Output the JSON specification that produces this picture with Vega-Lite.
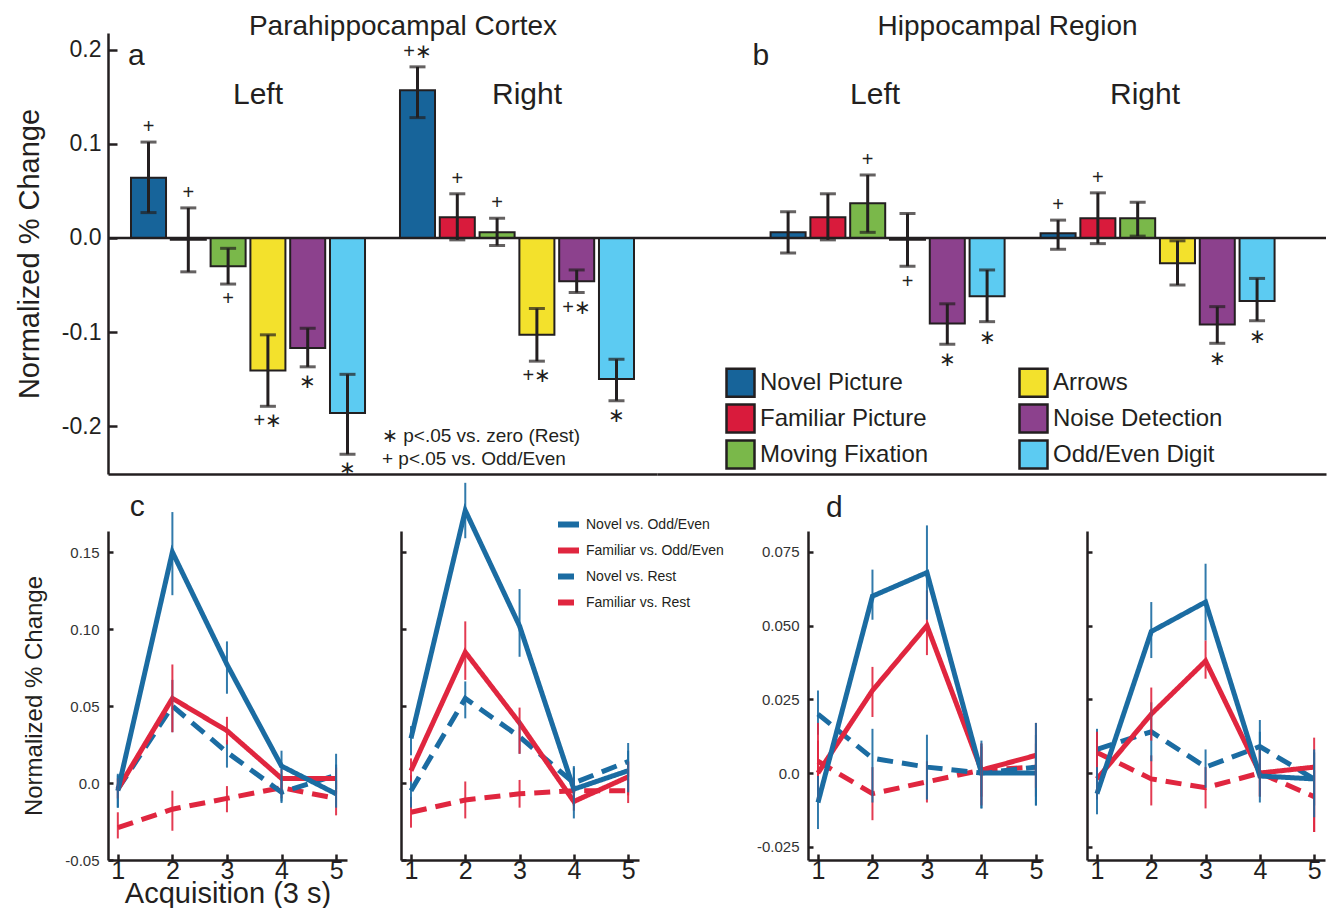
{
  "$schema": "https://vega.github.io/schema/vega-lite/v6.json",
  "padding": {"left": 15, "top": 12, "right": 0, "bottom": 0},
  "background": "white",
  "config": {
    "font": "Liberation Sans",
    "view": {"stroke": null},
    "axis": {"grid": false, "domainColor": "#231F20", "tickColor": "#231F20", "labelColor": "#231F20", "titleColor": "#231F20", "titleFontWeight": "normal", "domainWidth": 2.5, "tickWidth": 2.5},
    "legend": {"padding": 0},
    "title": {"color": "#231F20", "fontWeight": "normal"},
    "text": {"color": "#231F20"}
  },
  "datasets": {
    "bars": [
      {"region": "PHC", "side": "Left", "cond": "Novel Picture", "value": 0.064, "lo": 0.027, "hi": 0.102, "sig": "+", "pos": "above"},
      {"region": "PHC", "side": "Left", "cond": "Familiar Picture", "value": -0.002, "lo": -0.036, "hi": 0.032, "sig": "+", "pos": "above"},
      {"region": "PHC", "side": "Left", "cond": "Moving Fixation", "value": -0.030, "lo": -0.049, "hi": -0.011, "sig": "+", "pos": "below"},
      {"region": "PHC", "side": "Left", "cond": "Arrows", "value": -0.141, "lo": -0.179, "hi": -0.103, "sig": "+∗", "pos": "below"},
      {"region": "PHC", "side": "Left", "cond": "Noise Detection", "value": -0.117, "lo": -0.137, "hi": -0.096, "sig": "∗", "pos": "below"},
      {"region": "PHC", "side": "Left", "cond": "Odd/Even Digit", "value": -0.186, "lo": -0.230, "hi": -0.145, "sig": "∗", "pos": "below"},
      {"region": "PHC", "side": "Right", "cond": "Novel Picture", "value": 0.157, "lo": 0.128, "hi": 0.182, "sig": "+∗", "pos": "above"},
      {"region": "PHC", "side": "Right", "cond": "Familiar Picture", "value": 0.022, "lo": -0.002, "hi": 0.047, "sig": "+", "pos": "above"},
      {"region": "PHC", "side": "Right", "cond": "Moving Fixation", "value": 0.006, "lo": -0.008, "hi": 0.021, "sig": "+", "pos": "above"},
      {"region": "PHC", "side": "Right", "cond": "Arrows", "value": -0.103, "lo": -0.131, "hi": -0.075, "sig": "+∗", "pos": "below"},
      {"region": "PHC", "side": "Right", "cond": "Noise Detection", "value": -0.046, "lo": -0.058, "hi": -0.034, "sig": "+∗", "pos": "below"},
      {"region": "PHC", "side": "Right", "cond": "Odd/Even Digit", "value": -0.150, "lo": -0.173, "hi": -0.129, "sig": "∗", "pos": "below"},
      {"region": "HR", "side": "Left", "cond": "Novel Picture", "value": 0.006, "lo": -0.016, "hi": 0.028, "sig": "", "pos": "none"},
      {"region": "HR", "side": "Left", "cond": "Familiar Picture", "value": 0.022, "lo": -0.002, "hi": 0.047, "sig": "", "pos": "none"},
      {"region": "HR", "side": "Left", "cond": "Moving Fixation", "value": 0.037, "lo": 0.006, "hi": 0.067, "sig": "+", "pos": "above"},
      {"region": "HR", "side": "Left", "cond": "Arrows", "value": -0.002, "lo": -0.030, "hi": 0.026, "sig": "+", "pos": "below"},
      {"region": "HR", "side": "Left", "cond": "Noise Detection", "value": -0.091, "lo": -0.113, "hi": -0.070, "sig": "∗", "pos": "below"},
      {"region": "HR", "side": "Left", "cond": "Odd/Even Digit", "value": -0.062, "lo": -0.089, "hi": -0.034, "sig": "∗", "pos": "below"},
      {"region": "HR", "side": "Right", "cond": "Novel Picture", "value": 0.005, "lo": -0.012, "hi": 0.019, "sig": "+", "pos": "above"},
      {"region": "HR", "side": "Right", "cond": "Familiar Picture", "value": 0.021, "lo": -0.006, "hi": 0.048, "sig": "+", "pos": "above"},
      {"region": "HR", "side": "Right", "cond": "Moving Fixation", "value": 0.021, "lo": 0.002, "hi": 0.038, "sig": "", "pos": "none"},
      {"region": "HR", "side": "Right", "cond": "Arrows", "value": -0.027, "lo": -0.050, "hi": -0.003, "sig": "", "pos": "none"},
      {"region": "HR", "side": "Right", "cond": "Noise Detection", "value": -0.092, "lo": -0.112, "hi": -0.073, "sig": "∗", "pos": "below"},
      {"region": "HR", "side": "Right", "cond": "Odd/Even Digit", "value": -0.067, "lo": -0.088, "hi": -0.043, "sig": "∗", "pos": "below"}
    ],
    "lines": [
      {"panel": "c1", "series": "Familiar vs. Rest", "t": 1, "value": -0.029, "lo": -0.036, "hi": -0.019},
      {"panel": "c1", "series": "Familiar vs. Rest", "t": 2, "value": -0.017, "lo": -0.031, "hi": -0.005},
      {"panel": "c1", "series": "Familiar vs. Rest", "t": 3, "value": -0.010, "lo": -0.019, "hi": -0.002},
      {"panel": "c1", "series": "Familiar vs. Rest", "t": 4, "value": -0.003, "lo": -0.010, "hi": 0.005},
      {"panel": "c1", "series": "Familiar vs. Rest", "t": 5, "value": -0.010, "lo": -0.021, "hi": 0.002},
      {"panel": "c1", "series": "Novel vs. Rest", "t": 1, "value": -0.004, "lo": -0.016, "hi": 0.005},
      {"panel": "c1", "series": "Novel vs. Rest", "t": 2, "value": 0.050, "lo": 0.033, "hi": 0.067},
      {"panel": "c1", "series": "Novel vs. Rest", "t": 3, "value": 0.020, "lo": 0.010, "hi": 0.028},
      {"panel": "c1", "series": "Novel vs. Rest", "t": 4, "value": -0.006, "lo": -0.012, "hi": 0.003},
      {"panel": "c1", "series": "Novel vs. Rest", "t": 5, "value": 0.005, "lo": -0.004, "hi": 0.012},
      {"panel": "c1", "series": "Familiar vs. Odd/Even", "t": 1, "value": -0.004, "lo": -0.010, "hi": 0.003},
      {"panel": "c1", "series": "Familiar vs. Odd/Even", "t": 2, "value": 0.055, "lo": 0.033, "hi": 0.077},
      {"panel": "c1", "series": "Familiar vs. Odd/Even", "t": 3, "value": 0.034, "lo": 0.025, "hi": 0.043},
      {"panel": "c1", "series": "Familiar vs. Odd/Even", "t": 4, "value": 0.003, "lo": -0.004, "hi": 0.009},
      {"panel": "c1", "series": "Familiar vs. Odd/Even", "t": 5, "value": 0.003, "lo": -0.007, "hi": 0.010},
      {"panel": "c1", "series": "Novel vs. Odd/Even", "t": 1, "value": -0.005, "lo": -0.016, "hi": 0.006},
      {"panel": "c1", "series": "Novel vs. Odd/Even", "t": 2, "value": 0.150, "lo": 0.122, "hi": 0.176},
      {"panel": "c1", "series": "Novel vs. Odd/Even", "t": 3, "value": 0.077, "lo": 0.058, "hi": 0.092},
      {"panel": "c1", "series": "Novel vs. Odd/Even", "t": 4, "value": 0.011, "lo": -0.013, "hi": 0.021},
      {"panel": "c1", "series": "Novel vs. Odd/Even", "t": 5, "value": -0.007, "lo": -0.016, "hi": 0.019},
      {"panel": "c2", "series": "Familiar vs. Rest", "t": 1, "value": -0.019, "lo": -0.029, "hi": -0.009},
      {"panel": "c2", "series": "Familiar vs. Rest", "t": 2, "value": -0.011, "lo": -0.023, "hi": 0.001},
      {"panel": "c2", "series": "Familiar vs. Rest", "t": 3, "value": -0.007, "lo": -0.016, "hi": 0.002},
      {"panel": "c2", "series": "Familiar vs. Rest", "t": 4, "value": -0.005, "lo": -0.015, "hi": 0.004},
      {"panel": "c2", "series": "Familiar vs. Rest", "t": 5, "value": -0.005, "lo": -0.013, "hi": 0.014},
      {"panel": "c2", "series": "Novel vs. Rest", "t": 1, "value": -0.005, "lo": -0.016, "hi": 0.005},
      {"panel": "c2", "series": "Novel vs. Rest", "t": 2, "value": 0.055, "lo": 0.042, "hi": 0.066},
      {"panel": "c2", "series": "Novel vs. Rest", "t": 3, "value": 0.030, "lo": 0.019, "hi": 0.041},
      {"panel": "c2", "series": "Novel vs. Rest", "t": 4, "value": 0.000, "lo": -0.010, "hi": 0.010},
      {"panel": "c2", "series": "Novel vs. Rest", "t": 5, "value": 0.014, "lo": 0.004, "hi": 0.026},
      {"panel": "c2", "series": "Familiar vs. Odd/Even", "t": 1, "value": 0.008, "lo": 0.001, "hi": 0.016},
      {"panel": "c2", "series": "Familiar vs. Odd/Even", "t": 2, "value": 0.085, "lo": 0.067, "hi": 0.105},
      {"panel": "c2", "series": "Familiar vs. Odd/Even", "t": 3, "value": 0.039, "lo": 0.019, "hi": 0.049},
      {"panel": "c2", "series": "Familiar vs. Odd/Even", "t": 4, "value": -0.012, "lo": -0.018, "hi": -0.004},
      {"panel": "c2", "series": "Familiar vs. Odd/Even", "t": 5, "value": 0.004, "lo": -0.008, "hi": 0.014},
      {"panel": "c2", "series": "Novel vs. Odd/Even", "t": 1, "value": 0.029, "lo": 0.018, "hi": 0.037},
      {"panel": "c2", "series": "Novel vs. Odd/Even", "t": 2, "value": 0.177, "lo": 0.159, "hi": 0.195},
      {"panel": "c2", "series": "Novel vs. Odd/Even", "t": 3, "value": 0.102, "lo": 0.082, "hi": 0.126},
      {"panel": "c2", "series": "Novel vs. Odd/Even", "t": 4, "value": -0.004, "lo": -0.023, "hi": 0.011},
      {"panel": "c2", "series": "Novel vs. Odd/Even", "t": 5, "value": 0.008, "lo": -0.006, "hi": 0.021},
      {"panel": "d1", "series": "Familiar vs. Rest", "t": 1, "value": 0.004, "lo": -0.006, "hi": 0.011},
      {"panel": "d1", "series": "Familiar vs. Rest", "t": 2, "value": -0.007, "lo": -0.016, "hi": 0.002},
      {"panel": "d1", "series": "Familiar vs. Rest", "t": 3, "value": -0.003, "lo": -0.010, "hi": 0.004},
      {"panel": "d1", "series": "Familiar vs. Rest", "t": 4, "value": 0.001, "lo": -0.008, "hi": 0.009},
      {"panel": "d1", "series": "Familiar vs. Rest", "t": 5, "value": 0.002, "lo": -0.008, "hi": 0.010},
      {"panel": "d1", "series": "Novel vs. Rest", "t": 1, "value": 0.020, "lo": 0.013, "hi": 0.028},
      {"panel": "d1", "series": "Novel vs. Rest", "t": 2, "value": 0.005, "lo": -0.010, "hi": 0.015},
      {"panel": "d1", "series": "Novel vs. Rest", "t": 3, "value": 0.002, "lo": -0.009, "hi": 0.013},
      {"panel": "d1", "series": "Novel vs. Rest", "t": 4, "value": 0.000, "lo": -0.012, "hi": 0.011},
      {"panel": "d1", "series": "Novel vs. Rest", "t": 5, "value": 0.002, "lo": -0.011, "hi": 0.013},
      {"panel": "d1", "series": "Familiar vs. Odd/Even", "t": 1, "value": 0.000, "lo": -0.009, "hi": 0.017},
      {"panel": "d1", "series": "Familiar vs. Odd/Even", "t": 2, "value": 0.028, "lo": 0.019, "hi": 0.036},
      {"panel": "d1", "series": "Familiar vs. Odd/Even", "t": 3, "value": 0.050, "lo": 0.040, "hi": 0.062},
      {"panel": "d1", "series": "Familiar vs. Odd/Even", "t": 4, "value": 0.001, "lo": -0.011, "hi": 0.010},
      {"panel": "d1", "series": "Familiar vs. Odd/Even", "t": 5, "value": 0.006, "lo": -0.005, "hi": 0.017},
      {"panel": "d1", "series": "Novel vs. Odd/Even", "t": 1, "value": -0.010, "lo": -0.019, "hi": -0.001},
      {"panel": "d1", "series": "Novel vs. Odd/Even", "t": 2, "value": 0.060, "lo": 0.052, "hi": 0.069},
      {"panel": "d1", "series": "Novel vs. Odd/Even", "t": 3, "value": 0.068, "lo": 0.052, "hi": 0.084},
      {"panel": "d1", "series": "Novel vs. Odd/Even", "t": 4, "value": 0.000, "lo": -0.012, "hi": 0.010},
      {"panel": "d1", "series": "Novel vs. Odd/Even", "t": 5, "value": 0.000, "lo": -0.011, "hi": 0.017},
      {"panel": "d2", "series": "Familiar vs. Rest", "t": 1, "value": 0.007, "lo": 0.002, "hi": 0.014},
      {"panel": "d2", "series": "Familiar vs. Rest", "t": 2, "value": -0.002, "lo": -0.011, "hi": 0.006},
      {"panel": "d2", "series": "Familiar vs. Rest", "t": 3, "value": -0.005, "lo": -0.012, "hi": 0.002},
      {"panel": "d2", "series": "Familiar vs. Rest", "t": 4, "value": 0.000, "lo": -0.008, "hi": 0.008},
      {"panel": "d2", "series": "Familiar vs. Rest", "t": 5, "value": -0.008, "lo": -0.020, "hi": 0.001},
      {"panel": "d2", "series": "Novel vs. Rest", "t": 1, "value": 0.008, "lo": 0.002, "hi": 0.015},
      {"panel": "d2", "series": "Novel vs. Rest", "t": 2, "value": 0.014, "lo": 0.004, "hi": 0.024},
      {"panel": "d2", "series": "Novel vs. Rest", "t": 3, "value": 0.002, "lo": -0.005, "hi": 0.008},
      {"panel": "d2", "series": "Novel vs. Rest", "t": 4, "value": 0.009, "lo": 0.001, "hi": 0.014},
      {"panel": "d2", "series": "Novel vs. Rest", "t": 5, "value": -0.002, "lo": -0.011, "hi": 0.007},
      {"panel": "d2", "series": "Familiar vs. Odd/Even", "t": 1, "value": -0.002, "lo": -0.009, "hi": 0.014},
      {"panel": "d2", "series": "Familiar vs. Odd/Even", "t": 2, "value": 0.020, "lo": 0.011, "hi": 0.029},
      {"panel": "d2", "series": "Familiar vs. Odd/Even", "t": 3, "value": 0.038, "lo": 0.032, "hi": 0.045},
      {"panel": "d2", "series": "Familiar vs. Odd/Even", "t": 4, "value": 0.000, "lo": -0.008, "hi": 0.008},
      {"panel": "d2", "series": "Familiar vs. Odd/Even", "t": 5, "value": 0.002, "lo": -0.020, "hi": 0.012},
      {"panel": "d2", "series": "Novel vs. Odd/Even", "t": 1, "value": -0.007, "lo": -0.014, "hi": 0.002},
      {"panel": "d2", "series": "Novel vs. Odd/Even", "t": 2, "value": 0.048, "lo": 0.039, "hi": 0.058},
      {"panel": "d2", "series": "Novel vs. Odd/Even", "t": 3, "value": 0.058, "lo": 0.045, "hi": 0.071},
      {"panel": "d2", "series": "Novel vs. Odd/Even", "t": 4, "value": -0.001, "lo": -0.010, "hi": 0.018},
      {"panel": "d2", "series": "Novel vs. Odd/Even", "t": 5, "value": -0.002, "lo": -0.015, "hi": 0.008}
    ]
  },
  "spacing": 1,
  "resolve": {"scale": {"color": "independent", "strokeDash": "independent"}, "legend": {"color": "independent", "strokeDash": "independent"}},
  "vconcat": [
    {
      "bounds": "flush",
      "spacing": 0,
      "resolve": {"scale": {"color": "independent"}, "legend": {"color": "independent"}},
      "hconcat": [
        {
          "width": 549, "height": 441,
          "data": {"name": "bars"},
          "layer": [
            {
              "transform": [{"filter": "datum.region === 'PHC'"}],
              "mark": {"type": "bar", "stroke": "#231F20", "strokeWidth": 2},
              "encoding": {
                "x": {"field": "side", "type": "nominal", "scale": {"domain": ["Left", "Right"], "paddingInner": 0.13, "paddingOuter": 0.0855}, "axis": {"title": null, "labels": false, "ticks": false}},
                "xOffset": {"field": "cond", "type": "nominal", "scale": {"domain": ["Novel Picture", "Familiar Picture", "Moving Fixation", "Arrows", "Noise Detection", "Odd/Even Digit"], "paddingInner": 0.12, "paddingOuter": 0}},
                "y": {"field": "value", "type": "quantitative", "scale": {"domain": [-0.251, 0.218], "nice": false, "zero": false},
                      "axis": {"title": "Normalized % Change", "titleFontSize": 29, "titlePadding": 17, "values": [-0.2, -0.1, 0, 0.1, 0.2], "labelExpr": "replace(format(datum.value, '.1f'), '\u2212', '-')", "labelFontSize": 23, "tickSize": -9, "labelPadding": 16}},
                "color": {"field": "cond", "type": "nominal", "scale": {"domain": ["Novel Picture", "Familiar Picture", "Moving Fixation", "Arrows", "Noise Detection", "Odd/Even Digit"], "range": ["#17649A", "#D91B3C", "#7AB84A", "#F3E12C", "#8C418D", "#5CCBF2"]}, "legend": null}
              }
            },
            {"data": {"values": [{}]}, "mark": {"type": "rule", "strokeWidth": 2.5, "color": "#231F20"}, "encoding": {"y": {"datum": 0}}},
            {
              "transform": [{"filter": "datum.region === 'PHC'"}],
              "mark": {"type": "rule", "strokeWidth": 3, "color": "#231F20"},
              "encoding": {"x": {"field": "side", "type": "nominal"}, "xOffset": {"field": "cond", "type": "nominal"}, "y": {"field": "lo", "type": "quantitative"}, "y2": {"field": "hi"}}
            },
            {
              "transform": [{"filter": "datum.region === 'PHC'"}],
              "mark": {"type": "tick", "size": 16, "thickness": 3, "color": "#231F20"},
              "encoding": {"x": {"field": "side", "type": "nominal"}, "xOffset": {"field": "cond", "type": "nominal"}, "y": {"field": "lo", "type": "quantitative"}}
            },
            {
              "transform": [{"filter": "datum.region === 'PHC'"}],
              "mark": {"type": "tick", "size": 16, "thickness": 3, "color": "#231F20"},
              "encoding": {"x": {"field": "side", "type": "nominal"}, "xOffset": {"field": "cond", "type": "nominal"}, "y": {"field": "hi", "type": "quantitative"}}
            },
            {
              "transform": [{"filter": "datum.region === 'PHC' && datum.pos === 'above'"}],
              "mark": {"type": "text", "dy": -15, "fontSize": 20},
              "encoding": {"x": {"field": "side", "type": "nominal"}, "xOffset": {"field": "cond", "type": "nominal"}, "y": {"field": "hi", "type": "quantitative"}, "text": {"field": "sig"}}
            },
            {
              "transform": [{"filter": "datum.region === 'PHC' && datum.pos === 'below'"}],
              "mark": {"type": "text", "dy": 15, "fontSize": 20},
              "encoding": {"x": {"field": "side", "type": "nominal"}, "xOffset": {"field": "cond", "type": "nominal"}, "y": {"field": "lo", "type": "quantitative"}, "text": {"field": "sig"}}
            },
            {
              "data": {"values": [{"side": "Left"}, {"side": "Right"}]},
              "mark": {"type": "text", "fontSize": 30, "dx": 10, "baseline": "alphabetic"},
              "encoding": {"x": {"field": "side", "type": "nominal"}, "y": {"datum": 0.143}, "text": {"field": "side"}}
            },
            {
              "data": {"values": [{"side": "Left", "letter": "a"}]},
              "mark": {"type": "text", "fontSize": 30, "align": "left", "dx": -3, "baseline": "alphabetic"},
              "encoding": {"x": {"field": "side", "type": "nominal", "bandPosition": 0}, "y": {"datum": 0.1845}, "text": {"field": "letter"}}
            },
            {
              "data": {"values": [{"side": "Right", "heading": "Parahippocampal Cortex"}]},
              "mark": {"type": "text", "fontSize": 28, "align": "center", "dx": 3, "baseline": "alphabetic"},
              "encoding": {"x": {"field": "side", "type": "nominal", "bandPosition": 0}, "y": {"datum": 0.216}, "text": {"field": "heading"}}
            },
            {
              "data": {"values": [{"side": "Right", "note": "∗ p<.05 vs. zero (Rest)"}]},
              "mark": {"type": "text", "fontSize": 19, "align": "left", "dx": -18, "baseline": "alphabetic"},
              "encoding": {"x": {"field": "side", "type": "nominal", "bandPosition": 0}, "y": {"datum": -0.2174}, "text": {"field": "note"}}
            },
            {
              "data": {"values": [{"side": "Right", "note": "+ p<.05 vs. Odd/Even"}]},
              "mark": {"type": "text", "fontSize": 19, "align": "left", "dx": -18, "baseline": "alphabetic"},
              "encoding": {"x": {"field": "side", "type": "nominal", "bandPosition": 0}, "y": {"datum": -0.2418}, "text": {"field": "note"}}
            }
          ]
        },
        {
          "width": 669, "height": 441,
          "data": {"name": "bars"},
          "layer": [
            {
              "transform": [{"filter": "datum.region === 'HR'"}],
              "mark": {"type": "bar", "stroke": "#231F20", "strokeWidth": 2},
              "encoding": {
                "x": {"field": "side", "type": "nominal", "scale": {"domain": ["Left", "Right"], "paddingInner": 0.13, "paddingOuter": 0.304, "align": 0.692}, "axis": {"title": null, "labels": false, "ticks": false}},
                "xOffset": {"field": "cond", "type": "nominal", "scale": {"domain": ["Novel Picture", "Familiar Picture", "Moving Fixation", "Arrows", "Noise Detection", "Odd/Even Digit"], "paddingInner": 0.12, "paddingOuter": 0}},
                "y": {"field": "value", "type": "quantitative", "scale": {"domain": [-0.251, 0.218], "nice": false, "zero": false}, "axis": null},
                "color": {"field": "cond", "type": "nominal", "scale": {"domain": ["Novel Picture", "Familiar Picture", "Moving Fixation", "Arrows", "Noise Detection", "Odd/Even Digit"], "range": ["#17649A", "#D91B3C", "#7AB84A", "#F3E12C", "#8C418D", "#5CCBF2"]},
                          "legend": {"orient": "none", "legendX": 68, "legendY": 334, "columns": 2, "columnPadding": 85, "rowPadding": -3, "symbolType": "square", "symbolSize": 784, "symbolStrokeColor": "#231F20", "symbolStrokeWidth": 2.5, "labelFontSize": 24, "labelLimit": 400, "labelColor": "#231F20", "labelOffset": 4, "title": null}}
              }
            },
            {"data": {"values": [{}]}, "mark": {"type": "rule", "strokeWidth": 2.5, "color": "#231F20"}, "encoding": {"y": {"datum": 0}}},
            {
              "transform": [{"filter": "datum.region === 'HR'"}],
              "mark": {"type": "rule", "strokeWidth": 3, "color": "#231F20"},
              "encoding": {"x": {"field": "side", "type": "nominal"}, "xOffset": {"field": "cond", "type": "nominal"}, "y": {"field": "lo", "type": "quantitative"}, "y2": {"field": "hi"}}
            },
            {
              "transform": [{"filter": "datum.region === 'HR'"}],
              "mark": {"type": "tick", "size": 16, "thickness": 3, "color": "#231F20"},
              "encoding": {"x": {"field": "side", "type": "nominal"}, "xOffset": {"field": "cond", "type": "nominal"}, "y": {"field": "lo", "type": "quantitative"}}
            },
            {
              "transform": [{"filter": "datum.region === 'HR'"}],
              "mark": {"type": "tick", "size": 16, "thickness": 3, "color": "#231F20"},
              "encoding": {"x": {"field": "side", "type": "nominal"}, "xOffset": {"field": "cond", "type": "nominal"}, "y": {"field": "hi", "type": "quantitative"}}
            },
            {
              "transform": [{"filter": "datum.region === 'HR' && datum.pos === 'above'"}],
              "mark": {"type": "text", "dy": -15, "fontSize": 20},
              "encoding": {"x": {"field": "side", "type": "nominal"}, "xOffset": {"field": "cond", "type": "nominal"}, "y": {"field": "hi", "type": "quantitative"}, "text": {"field": "sig"}}
            },
            {
              "transform": [{"filter": "datum.region === 'HR' && datum.pos === 'below'"}],
              "mark": {"type": "text", "dy": 16, "fontSize": 20},
              "encoding": {"x": {"field": "side", "type": "nominal"}, "xOffset": {"field": "cond", "type": "nominal"}, "y": {"field": "lo", "type": "quantitative"}, "text": {"field": "sig"}}
            },
            {
              "data": {"values": [{"side": "Left"}, {"side": "Right"}]},
              "mark": {"type": "text", "fontSize": 30, "dx": -13, "baseline": "alphabetic"},
              "encoding": {"x": {"field": "side", "type": "nominal"}, "y": {"datum": 0.143}, "text": {"field": "side"}}
            },
            {
              "data": {"values": [{"side": "Left", "letter": "b"}]},
              "mark": {"type": "text", "fontSize": 30, "align": "left", "dx": -18, "baseline": "alphabetic"},
              "encoding": {"x": {"field": "side", "type": "nominal", "bandPosition": 0}, "y": {"datum": 0.1845}, "text": {"field": "letter"}}
            },
            {
              "data": {"values": [{"side": "Right", "heading": "Hippocampal Region"}]},
              "mark": {"type": "text", "fontSize": 28, "align": "center", "dx": -33, "baseline": "alphabetic"},
              "encoding": {"x": {"field": "side", "type": "nominal", "bandPosition": 0}, "y": {"datum": 0.216}, "text": {"field": "heading"}}
            }
          ]
        }
      ]
    },
    {
      "bounds": "flush",
      "spacing": 0,
      "resolve": {"scale": {"color": "independent", "strokeDash": "independent"}, "legend": {"color": "independent", "strokeDash": "independent"}},
      "hconcat": [
        {
          "width": 239, "height": 329,
          "data": {"name": "lines"},
          "layer": [
            {
              "transform": [{"filter": "datum.panel === 'c1'"}],
              "mark": {"type": "line", "strokeWidth": 5},
              "encoding": {
                "x": {"field": "t", "type": "quantitative", "scale": {"domain": [0.82, 5.2], "nice": false, "zero": false}, "axis": {"values": [1, 2, 3, 4, 5], "format": "d", "labelFontSize": 25, "tickSize": -6, "labelPadding": 4, "title": "Acquisition (3 s)", "titleFontSize": 29, "titlePadding": -4}},
                "y": {"field": "value", "type": "quantitative", "scale": {"domain": [-0.05, 0.1637], "nice": false, "zero": false}, "axis": {"values": [-0.05, 0, 0.05, 0.1, 0.15], "labelExpr": "datum.value == 0 ? '0.0' : replace(format(datum.value, '.2f'), '\u2212', '-')", "labelFontSize": 15, "labelColor": "#333333", "tickSize": -5, "labelPadding": 14, "title": "Normalized % Change", "titleFontSize": 24, "titlePadding": 18}},
                "color": {"field": "series", "type": "nominal", "scale": {"domain": ["Novel vs. Odd/Even", "Familiar vs. Odd/Even", "Novel vs. Rest", "Familiar vs. Rest"], "range": ["#1B6CA2", "#E0263F", "#1B6CA2", "#E0263F"]}, "legend": null},
                "strokeDash": {"field": "series", "type": "nominal", "scale": {"domain": ["Novel vs. Odd/Even", "Familiar vs. Odd/Even", "Novel vs. Rest", "Familiar vs. Rest"], "range": [[1, 0], [1, 0], [16, 9], [16, 9]]}, "legend": null}
              }
            },
            {
              "transform": [{"filter": "datum.panel === 'c1'"}],
              "mark": {"type": "rule", "strokeWidth": 2, "opacity": 0.9},
              "encoding": {"x": {"field": "t", "type": "quantitative"}, "y": {"field": "lo", "type": "quantitative"}, "y2": {"field": "hi"}, "color": {"field": "series", "type": "nominal", "legend": null}}
            },
            {
              "data": {"values": [{"lab": "c"}]},
              "mark": {"type": "text", "fontSize": 30, "align": "left", "baseline": "alphabetic"},
              "encoding": {"x": {"datum": 1.22}, "y": {"datum": 0.1735}, "text": {"field": "lab"}}
            }
          ]
        },
        {"width": 54, "height": 1, "data": {"values": []}, "mark": "point"},
        {
          "width": 238, "height": 329,
          "data": {"name": "lines"},
          "layer": [
            {
              "transform": [{"filter": "datum.panel === 'c2'"}],
              "mark": {"type": "line", "strokeWidth": 5},
              "encoding": {
                "x": {"field": "t", "type": "quantitative", "scale": {"domain": [0.816, 5.2], "nice": false, "zero": false}, "axis": {"values": [1, 2, 3, 4, 5], "format": "d", "labelFontSize": 25, "tickSize": -6, "labelPadding": 4, "title": null}},
                "y": {"field": "value", "type": "quantitative", "scale": {"domain": [-0.05, 0.1637], "nice": false, "zero": false}, "axis": {"values": [-0.05, 0, 0.05, 0.1, 0.15], "labels": false, "tickSize": -5, "title": null}},
                "color": {"field": "series", "type": "nominal", "scale": {"domain": ["Novel vs. Odd/Even", "Familiar vs. Odd/Even", "Novel vs. Rest", "Familiar vs. Rest"], "range": ["#1B6CA2", "#E0263F", "#1B6CA2", "#E0263F"]},
                          "legend": {"orient": "none", "legendX": 154, "legendY": -20, "title": null, "symbolType": "stroke", "symbolSize": 441, "symbolStrokeWidth": 6, "labelFontSize": 14, "labelColor": "#231F20", "rowPadding": 0, "labelOffset": 4,
                                     "encode": {"symbols": {"update": {"strokeDash": {"signal": "indexof(datum.value, 'Rest') >= 0 ? [6, 3] : [1, 0]"}}}}}},
                "strokeDash": {"field": "series", "type": "nominal", "scale": {"domain": ["Novel vs. Odd/Even", "Familiar vs. Odd/Even", "Novel vs. Rest", "Familiar vs. Rest"], "range": [[1, 0], [1, 0], [16, 9], [16, 9]]},
                          "legend": {"orient": "none", "legendX": 154, "legendY": -20, "title": null, "symbolType": "stroke", "symbolSize": 441, "symbolStrokeWidth": 6, "labelFontSize": 14, "labelColor": "#231F20", "rowPadding": 0, "labelOffset": 4,
                                     "encode": {"symbols": {"update": {"strokeDash": {"signal": "indexof(datum.value, 'Rest') >= 0 ? [6, 3] : [1, 0]"}}}}}}
              }
            },
            {
              "transform": [{"filter": "datum.panel === 'c2'"}],
              "mark": {"type": "rule", "strokeWidth": 2, "opacity": 0.9},
              "encoding": {"x": {"field": "t", "type": "quantitative"}, "y": {"field": "lo", "type": "quantitative"}, "y2": {"field": "hi"}, "color": {"field": "series", "type": "nominal", "legend": null}}
            }
          ]
        },
        {"width": 169, "height": 1, "data": {"values": []}, "mark": "point"},
        {
          "width": 235, "height": 329,
          "data": {"name": "lines"},
          "layer": [
            {
              "transform": [{"filter": "datum.panel === 'd1'"}],
              "mark": {"type": "line", "strokeWidth": 5},
              "encoding": {
                "x": {"field": "t", "type": "quantitative", "scale": {"domain": [0.817, 5.13], "nice": false, "zero": false}, "axis": {"values": [1, 2, 3, 4, 5], "format": "d", "labelFontSize": 25, "tickSize": -6, "labelPadding": 4, "title": null}},
                "y": {"field": "value", "type": "quantitative", "scale": {"domain": [-0.0295, 0.0821], "nice": false, "zero": false}, "axis": {"values": [-0.025, 0, 0.025, 0.05, 0.075], "labelExpr": "datum.value == 0 ? '0.0' : replace(format(datum.value, '.3f'), '\u2212', '-')", "labelFontSize": 15, "labelColor": "#333333", "tickSize": -5, "labelPadding": 14, "title": null}},
                "color": {"field": "series", "type": "nominal", "scale": {"domain": ["Novel vs. Odd/Even", "Familiar vs. Odd/Even", "Novel vs. Rest", "Familiar vs. Rest"], "range": ["#1B6CA2", "#E0263F", "#1B6CA2", "#E0263F"]}, "legend": null},
                "strokeDash": {"field": "series", "type": "nominal", "scale": {"domain": ["Novel vs. Odd/Even", "Familiar vs. Odd/Even", "Novel vs. Rest", "Familiar vs. Rest"], "range": [[1, 0], [1, 0], [16, 9], [16, 9]]}, "legend": null}
              }
            },
            {
              "transform": [{"filter": "datum.panel === 'd1'"}],
              "mark": {"type": "rule", "strokeWidth": 2, "opacity": 0.9},
              "encoding": {"x": {"field": "t", "type": "quantitative"}, "y": {"field": "lo", "type": "quantitative"}, "y2": {"field": "hi"}, "color": {"field": "series", "type": "nominal", "legend": null}}
            },
            {
              "data": {"values": [{"lab": "d"}]},
              "mark": {"type": "text", "fontSize": 30, "align": "left", "baseline": "alphabetic"},
              "encoding": {"x": {"datum": 1.147}, "y": {"datum": 0.0868}, "text": {"field": "lab"}}
            }
          ]
        },
        {"width": 44, "height": 1, "data": {"values": []}, "mark": "point"},
        {
          "width": 238, "height": 329,
          "data": {"name": "lines"},
          "layer": [
            {
              "transform": [{"filter": "datum.panel === 'd2'"}],
              "mark": {"type": "line", "strokeWidth": 5},
              "encoding": {
                "x": {"field": "t", "type": "quantitative", "scale": {"domain": [0.816, 5.2], "nice": false, "zero": false}, "axis": {"values": [1, 2, 3, 4, 5], "format": "d", "labelFontSize": 25, "tickSize": -6, "labelPadding": 4, "title": null}},
                "y": {"field": "value", "type": "quantitative", "scale": {"domain": [-0.0295, 0.0821], "nice": false, "zero": false}, "axis": {"values": [-0.025, 0, 0.025, 0.05, 0.075], "labels": false, "tickSize": -5, "title": null}},
                "color": {"field": "series", "type": "nominal", "scale": {"domain": ["Novel vs. Odd/Even", "Familiar vs. Odd/Even", "Novel vs. Rest", "Familiar vs. Rest"], "range": ["#1B6CA2", "#E0263F", "#1B6CA2", "#E0263F"]}, "legend": null},
                "strokeDash": {"field": "series", "type": "nominal", "scale": {"domain": ["Novel vs. Odd/Even", "Familiar vs. Odd/Even", "Novel vs. Rest", "Familiar vs. Rest"], "range": [[1, 0], [1, 0], [16, 9], [16, 9]]}, "legend": null}
              }
            },
            {
              "transform": [{"filter": "datum.panel === 'd2'"}],
              "mark": {"type": "rule", "strokeWidth": 2, "opacity": 0.9},
              "encoding": {"x": {"field": "t", "type": "quantitative"}, "y": {"field": "lo", "type": "quantitative"}, "y2": {"field": "hi"}, "color": {"field": "series", "type": "nominal", "legend": null}}
            }
          ]
        }
      ]
    }
  ]
}
